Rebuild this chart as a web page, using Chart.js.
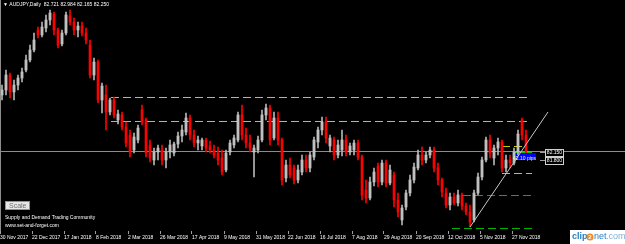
<!DOCTYPE html>
<html>
<head>
<meta charset="utf-8">
<script src="https://cdn.jsdelivr.net/npm/chart.js@4.4.0/dist/chart.umd.min.js"></script>
<style>
  html, body { margin: 0; padding: 0; background: #000; overflow: hidden; }
</style>
</head>
<body>
<canvas id="chart" width="625" height="244"></canvas>
<script>
// AUDJPY daily (one candle = two trading days)
const opens = [85.05, 85.30, 86.05, 85.20, 85.55, 85.90, 86.30, 86.80, 87.30, 88.30,
  88.05, 88.40, 88.80, 89.10, 88.30, 87.60, 88.15, 89.00, 88.70, 88.30,
  88.50, 88.15, 87.55, 86.05, 86.70, 84.80, 85.05, 84.20, 84.80, 83.80,
  84.05, 83.45, 83.05, 82.30, 82.80, 84.30, 83.80, 82.55, 81.80, 82.20,
  82.30, 81.80, 82.20, 82.15, 82.60, 83.00, 83.20, 83.90, 83.05, 82.65,
  82.50, 82.80, 82.50, 82.30, 82.15, 81.90, 81.30, 82.20, 82.55, 82.80,
  84.05, 83.05, 82.65, 82.20, 82.30, 82.80, 84.05, 84.40, 82.90, 83.90,
  82.80, 80.90, 81.55, 81.40, 80.80, 81.20, 81.80, 81.40, 81.95, 82.70,
  83.30, 83.70, 82.50, 82.80, 82.05, 82.30, 82.80, 82.20, 82.30, 82.65,
  81.95, 80.30, 79.90, 80.70, 81.50, 80.70, 81.65, 80.65, 81.05, 79.80,
  78.80, 79.45, 80.15, 80.80, 81.40, 82.05, 81.80, 82.05, 82.30, 81.40,
  80.80, 80.15, 79.55, 79.95, 79.65, 80.05, 79.50, 79.20, 78.80, 80.15,
  80.95, 81.80, 82.80, 81.90, 82.40, 82.70, 81.40, 81.80, 81.65, 82.20,
  83.80, 83.05];
const highs = [85.55, 86.30, 86.15, 85.80, 86.05, 86.40, 87.05, 87.55, 88.15, 88.45,
  88.70, 89.05, 89.30, 89.20, 88.40, 88.30, 89.20, 89.30, 88.90, 88.70,
  88.70, 88.40, 87.80, 86.90, 86.80, 85.65, 85.55, 84.90, 84.95, 84.30,
  84.20, 83.70, 83.30, 83.15, 83.55, 84.55, 83.90, 82.80, 82.40, 82.55,
  82.55, 82.40, 82.80, 82.70, 83.20, 83.55, 84.15, 84.05, 83.30, 83.00,
  82.90, 82.90, 82.75, 82.55, 82.45, 82.30, 82.30, 82.80, 83.05, 84.20,
  84.55, 83.40, 83.05, 82.55, 83.00, 84.30, 84.60, 84.55, 84.20, 84.20,
  82.90, 81.80, 81.90, 81.55, 81.55, 82.05, 82.05, 82.20, 82.95, 83.45,
  83.95, 83.95, 83.05, 82.95, 82.80, 83.30, 83.05, 82.65, 82.80, 82.80,
  82.05, 80.80, 80.95, 81.40, 81.65, 81.80, 81.80, 81.55, 81.20, 80.15,
  79.55, 80.30, 81.05, 81.65, 82.30, 82.45, 82.20, 82.45, 82.45, 81.65,
  80.90, 80.40, 80.15, 80.15, 80.30, 80.15, 79.65, 79.55, 80.30, 81.15,
  81.95, 82.95, 83.05, 82.55, 82.90, 82.80, 82.05, 82.05, 82.40, 83.30,
  83.90, 83.30];
const lows = [84.80, 85.05, 84.90, 84.80, 85.30, 85.70, 86.20, 86.70, 87.20, 87.90,
  87.95, 88.20, 88.55, 88.05, 87.40, 87.50, 88.05, 88.55, 88.05, 87.95,
  88.00, 87.60, 85.90, 85.80, 84.65, 84.15, 83.30, 84.05, 83.90, 83.60,
  83.30, 82.45, 81.95, 82.15, 82.65, 83.55, 81.95, 81.70, 81.55, 81.80,
  81.55, 81.40, 81.90, 82.00, 82.40, 82.70, 83.05, 82.80, 82.45, 82.30,
  82.30, 82.20, 82.15, 81.90, 81.55, 81.05, 81.20, 82.05, 82.40, 82.70,
  82.80, 82.40, 82.20, 80.95, 82.15, 82.70, 83.80, 82.55, 82.80, 82.55,
  80.55, 80.70, 80.90, 80.60, 80.65, 81.05, 81.20, 81.20, 81.80, 82.40,
  83.05, 82.65, 82.20, 81.80, 81.90, 82.00, 82.00, 82.05, 82.05, 81.80,
  79.80, 79.65, 79.80, 80.50, 80.45, 80.55, 80.45, 80.55, 79.45, 78.95,
  78.55, 79.30, 80.00, 80.65, 81.30, 81.55, 81.65, 81.90, 81.20, 80.55,
  79.95, 79.40, 79.30, 79.55, 79.50, 79.30, 79.05, 78.45, 78.70, 80.05,
  80.80, 81.70, 81.90, 81.55, 82.05, 81.20, 81.20, 81.40, 81.55, 82.05,
  82.80, 82.15];
const closes = [85.30, 86.05, 85.20, 85.55, 85.90, 86.20, 86.80, 87.30, 87.80, 88.05,
  88.45, 88.80, 89.15, 88.30, 87.55, 88.15, 89.05, 88.70, 88.30, 88.50,
  88.15, 87.80, 86.05, 86.70, 84.80, 85.50, 84.20, 84.80, 84.05, 84.10,
  83.45, 82.65, 82.20, 82.95, 83.40, 83.70, 82.15, 81.90, 82.20, 82.40,
  81.80, 82.20, 82.55, 82.60, 83.00, 83.30, 83.90, 83.05, 82.65, 82.80,
  82.80, 82.40, 82.30, 82.05, 81.80, 81.20, 82.15, 82.65, 82.90, 84.05,
  83.05, 82.65, 82.40, 82.40, 82.80, 84.05, 84.40, 82.80, 83.90, 82.80,
  80.80, 81.55, 81.05, 80.80, 81.30, 81.80, 81.40, 82.05, 82.80, 83.30,
  83.70, 82.90, 82.90, 82.05, 82.55, 82.80, 82.20, 82.50, 82.65, 81.95,
  80.05, 79.90, 80.70, 81.20, 80.70, 81.65, 80.65, 81.30, 79.80, 79.20,
  79.40, 80.15, 80.80, 81.45, 82.05, 81.80, 82.05, 82.30, 81.40, 80.80,
  80.20, 79.55, 79.95, 79.65, 80.05, 79.50, 79.20, 78.70, 80.15, 80.95,
  81.80, 82.80, 82.15, 82.40, 82.70, 81.40, 81.80, 81.65, 82.20, 83.10,
  83.05, 82.25];

// date axis: candle index where each label sits, and its text
const tickCandles = [0, 8, 16, 24, 32, 40, 48, 56, 64, 72, 80, 88, 96, 104, 112, 120, 128];
const tickLabels = ['30 Nov 2017', '22 Dec 2017', '17 Jan 2018', '8 Feb 2018', '2 Mar 2018',
  '26 Mar 2018', '17 Apr 2018', '9 May 2018', '31 May 2018', '22 Jun 2018', '16 Jul 2018',
  '7 Aug 2018', '29 Aug 2018', '20 Sep 2018', '12 Oct 2018', '5 Nov 2018', '27 Nov 2018'];

// drawn objects on the chart (price levels, candle index ranges)
const lastPrice = 82.25;
const longLevels = [84.95, 83.75];          // yellow dashed, from candle 27 to the end
const longFrom = 27.25, longTo = 131.75;
const shortLevels = [{ price: 82.48, from: 125, to: 131.25, color: '#c8c800' },
                     { price: 81.16, from: 125, to: 132.5, color: '#c8c800' },
                     { price: 80.05, from: 115.25, to: 132.5, color: '#00b400' },
                     { price: 78.40, from: 112.5, to: 132.5, color: '#00b400' }];
const zone = { from: 128.25, to: 133.5, top: 82.15, bottom: 81.80 };
const trendFrom = [117, 78.45], trendTo = [136.5, 84.2];
const priceTags = [82.15, 81.80];

const upColor = '#ffffff', downColor = '#ff0000';
const wickData = lows.map((l, i) => ({ x: i, y: [l, highs[i]] }));
const bodyData = opens.map((o, i) => ({ x: i, y: [o, closes[i]] }));
const bodyColors = opens.map((o, i) => closes[i] >= o ? upColor : downColor);
const wickColors = opens.map((o, i) => closes[i] >= o ? '#b4b4b4' : downColor);

const overlay = {
  id: 'overlay',
  beforeDatasetsDraw(chart) {
    const ctx = chart.ctx, xs = chart.scales.x, ys = chart.scales.y;
    const area = chart.chartArea;
    ctx.save();
    // current price line
    ctx.strokeStyle = '#8c8c8c';
    ctx.lineWidth = 1;
    let y = Math.round(ys.getPixelForValue(lastPrice)) + 0.5;
    ctx.beginPath(); ctx.moveTo(area.left, y); ctx.lineTo(area.right, y); ctx.stroke();
    // dashed levels
    ctx.setLineDash([8, 4]);
    ctx.strokeStyle = '#c8c800';
    longLevels.forEach(p => {
      y = Math.round(ys.getPixelForValue(p)) + 0.5;
      ctx.beginPath();
      ctx.moveTo(xs.getPixelForValue(longFrom), y);
      ctx.lineTo(xs.getPixelForValue(longTo), y);
      ctx.stroke();
    });
    shortLevels.forEach(l => {
      ctx.strokeStyle = l.color;
      y = Math.round(ys.getPixelForValue(l.price)) + 0.5;
      ctx.beginPath();
      ctx.moveTo(xs.getPixelForValue(l.from), y);
      ctx.lineTo(xs.getPixelForValue(l.to), y);
      ctx.stroke();
    });
    ctx.setLineDash([]);
    // blue zone
    const zx1 = xs.getPixelForValue(zone.from), zx2 = xs.getPixelForValue(zone.to);
    const zy1 = ys.getPixelForValue(zone.top), zy2 = ys.getPixelForValue(zone.bottom);
    ctx.fillStyle = '#0000ff';
    ctx.fillRect(zx1, zy1, zx2 - zx1, zy2 - zy1);
    ctx.strokeStyle = '#00c800';
    ctx.beginPath(); ctx.moveTo(zx1, zy1 - 0.5); ctx.lineTo(zx2 - 4, zy1 - 0.5); ctx.stroke();
    ctx.restore();
  },
  afterDatasetsDraw(chart) {
    const ctx = chart.ctx, xs = chart.scales.x, ys = chart.scales.y;
    const area = chart.chartArea;
    ctx.save();
    // trend line
    ctx.strokeStyle = '#c8c8c8';
    ctx.lineWidth = 1;
    ctx.beginPath();
    ctx.moveTo(xs.getPixelForValue(trendFrom[0]), ys.getPixelForValue(trendFrom[1]));
    ctx.lineTo(xs.getPixelForValue(trendTo[0]), ys.getPixelForValue(trendTo[1]));
    ctx.stroke();
    // zone caption
    ctx.font = '5px "Liberation Sans"';
    ctx.fillStyle = '#d8ffd8';
    ctx.textBaseline = 'middle';
    ctx.fillText('42.10 pips', xs.getPixelForValue(zone.from) - 2, ys.getPixelForValue(zone.bottom) - 1);
    // price tags
    ctx.textAlign = 'center';
    priceTags.forEach((p, i) => {
      const ty = Math.round(ys.getPixelForValue(p)) + (i === 0 ? -1 : 0);
      ctx.strokeStyle = '#a0a0a0';
      ctx.beginPath(); ctx.moveTo(540, ty + 0.5); ctx.lineTo(545, ty + 0.5); ctx.stroke();
      ctx.fillStyle = '#000';
      ctx.fillRect(545, ty - 3, 18, 7);
      ctx.strokeStyle = '#d0d0d0';
      ctx.strokeRect(545.5, ty - 2.5, 18, 7);
      ctx.fillStyle = '#ffffff';
      ctx.fillText(p.toFixed(3), 554.5, ty + 1);
    });
    // left border
    ctx.strokeStyle = '#8c8c8c';
    ctx.beginPath(); ctx.moveTo(0.5, area.top); ctx.lineTo(0.5, area.bottom); ctx.stroke();
    // header
    ctx.textAlign = 'left';
    ctx.fillStyle = '#ffffff';
    ctx.font = '5px "Liberation Sans"';
    ctx.fillText('\u25BC AUDJPY,Daily  82.721 82.984 82.165 82.250', 3, 5);
    // scale button
    ctx.fillStyle = '#e6e6e6';
    ctx.fillRect(5, 201, 25, 9);
    ctx.strokeStyle = '#909090';
    ctx.strokeRect(5.5, 201.5, 24, 8);
    ctx.fillStyle = '#707070';
    ctx.font = '7px "Liberation Sans"';
    ctx.fillText('Scale', 9, 206);
    // watermark text
    ctx.fillStyle = '#ffffff';
    ctx.font = '5px "Liberation Sans"';
    ctx.fillText('Supply and Demand Trading Community', 5, 218);
    ctx.fillText('www.set-and-forget.com', 5, 226);
    // clip2net logo
    ctx.fillStyle = '#ffffff';
    ctx.fillRect(570, 230, 55, 14);
    ctx.font = 'bold 9px "Liberation Sans"';
    ctx.fillStyle = '#2a7fc1';
    ctx.fillText('clip', 572, 237);
    ctx.fillStyle = '#f08a1c';
    ctx.beginPath(); ctx.arc(590, 237, 3.5, 0, Math.PI * 2); ctx.fill();
    ctx.fillStyle = '#ffffff';
    ctx.font = 'bold 6px "Liberation Sans"';
    ctx.fillText('2', 588.3, 237.5);
    ctx.fillStyle = '#2a7fc1';
    ctx.font = '9px "Liberation Sans"';
    ctx.fillText('net', 594, 237);
    ctx.fillStyle = '#7fb4dd';
    ctx.fillText('.com', 606, 237);
    ctx.restore();
  }
};

new Chart(document.getElementById('chart'), {
  type: 'bar',
  data: {
    datasets: [{
      label: 'wick',
      data: wickData,
      backgroundColor: wickColors,
      barThickness: 1,
      borderWidth: 0
    }, {
      label: 'body',
      data: bodyData,
      backgroundColor: bodyColors,
      barThickness: 2,
      minBarLength: 1,
      borderWidth: 0
    }]
  },
  options: {
    responsive: false,
    animation: false,
    grouped: false,
    layout: { padding: 0 },
    plugins: { legend: { display: false }, tooltip: { enabled: false } },
    scales: {
      x: {
        type: 'linear',
        offset: false,
        min: -0.5,
        max: 155.75,
        grid: { display: true, drawOnChartArea: false, drawTicks: true, tickLength: 3, color: '#a0a0a0', offset: false },
        border: { display: false },
        ticks: {
          color: '#ffffff',
          font: { family: 'Liberation Sans', size: 5 },
          padding: 1,
          align: 'start',
          maxRotation: 0,
          autoSkip: false,
          callback: (v) => {
            const i = tickCandles.indexOf(v + 0.5);
            return i >= 0 ? tickLabels[i] : '';
          }
        },
        afterBuildTicks: (scale) => {
          scale.ticks = tickCandles.map(c => ({ value: c - 0.5 }));
        },
        afterFit: (scale) => {
          scale.height = 13;
          scale.paddingLeft = 0;
          scale.paddingRight = 0;
        }
      },
      y: {
        display: false,
        min: 78.25,
        max: 89.8
      }
    }
  },
  plugins: [overlay]
});
</script>
</body>
</html>
